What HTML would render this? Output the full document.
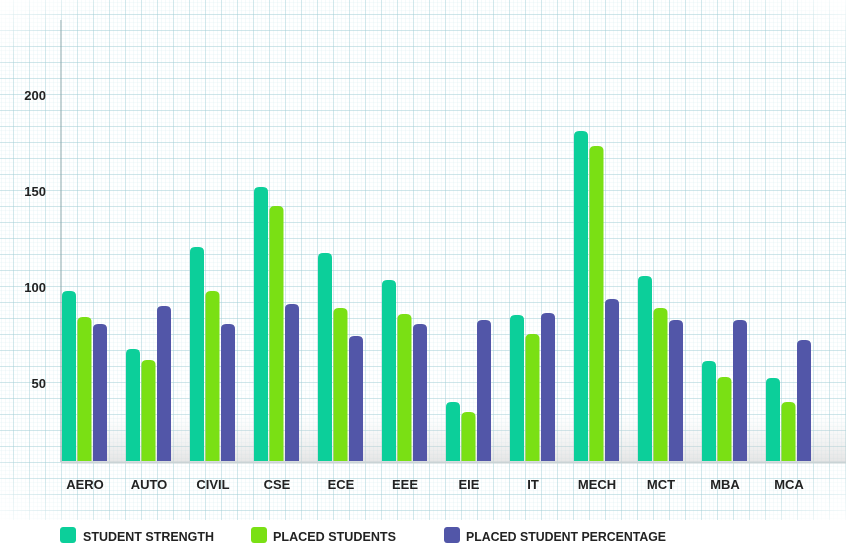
<!DOCTYPE html>
<html><head><style>
body{margin:0;width:846px;height:544px;overflow:hidden;background:#fff;font-family:"Liberation Sans",sans-serif;}
</style></head><body>
<svg width="846" height="544" xmlns="http://www.w3.org/2000/svg">
<defs>
<pattern id="minor" width="4" height="4" patternUnits="userSpaceOnUse" x="61" y="462">
<path d="M0 0H4M0 0V4" stroke="#dcefF2" stroke-width="0.6" fill="none"/></pattern>
<pattern id="major" width="16" height="16" patternUnits="userSpaceOnUse" x="61" y="462">
<path d="M0 0H16M0 0V16" stroke="#9fcdd5" stroke-width="0.9" fill="none"/></pattern>
<radialGradient id="fade" cx="0.5" cy="0.5" r="0.72">
<stop offset="0.85" stop-color="#fff" stop-opacity="0"/><stop offset="1" stop-color="#fff" stop-opacity="1"/></radialGradient>
<linearGradient id="shade" x1="0" y1="0" x2="0" y2="1"><stop offset="0" stop-color="#ddd" stop-opacity="0"/><stop offset="1" stop-color="#ccc" stop-opacity="0.5"/></linearGradient>
</defs>
<rect x="0" y="0" width="846" height="520" fill="url(#minor)"/>
<rect x="0" y="0" width="846" height="520" fill="url(#major)"/>
<rect x="0" y="0" width="846" height="520" fill="url(#fade)"/>
<rect x="61" y="415" width="785" height="47" fill="url(#shade)"/>
<line x1="61" y1="20" x2="61" y2="462" stroke="#8aa7ab" stroke-width="1"/>
<line x1="61" y1="462.5" x2="846" y2="462.5" stroke="#c9d3d5" stroke-width="2"/>
<g font-weight="bold" font-size="13" fill="#222" text-anchor="end">
<text x="46" y="100">200</text><text x="46" y="196">150</text><text x="46" y="292">100</text><text x="46" y="388">50</text>
</g>
<g id="bars"></g>
<g font-weight="bold" font-size="13" fill="#222" text-anchor="middle" id="labels"></g>
<rect x="60" y="527" width="16" height="16" rx="3" fill="#0ccf9a"/>
<text x="83" y="541" font-weight="bold" font-size="13" fill="#222" textLength="131" lengthAdjust="spacingAndGlyphs">STUDENT STRENGTH</text>
<rect x="251" y="527" width="16" height="16" rx="3" fill="#7ae014"/>
<text x="273" y="541" font-weight="bold" font-size="13" fill="#222" textLength="123" lengthAdjust="spacingAndGlyphs">PLACED STUDENTS</text>
<rect x="444" y="527" width="16" height="16" rx="3" fill="#5256a8"/>
<text x="466" y="541" font-weight="bold" font-size="13" fill="#222" textLength="200" lengthAdjust="spacingAndGlyphs">PLACED STUDENT PERCENTAGE</text>
</svg>
<script>
var d=[["AERO",291,317,324],["AUTO",349,360,306],["CIVIL",247,291,324],["CSE",187,206,304],["ECE",253,308,336],["EEE",280,314,324],["EIE",402,412,320],["IT",315,334,313],["MECH",131,146,299],["MCT",276,308,320],["MBA",361,377,320],["MCA",378,402,340]];
var c=["#0ccf9a","#7ae014","#5256a8"],b="",l="";
d.forEach(function(r,i){var x=62+64*i;for(var k=0;k<3;k++){var t=r[k+1],bx=x+k*15.5;
b+='<path d="M'+bx+' 461V'+(t+5)+'Q'+bx+' '+t+' '+(bx+5)+' '+t+'H'+(bx+9)+'Q'+(bx+14)+' '+t+' '+(bx+14)+' '+(t+5)+'V461Z" fill="'+c[k]+'"/>';}
l+='<text x="'+(x+23)+'" y="489">'+r[0]+'</text>';});
document.getElementById("bars").innerHTML=b;document.getElementById("labels").innerHTML=l;
</script>
</body></html>
